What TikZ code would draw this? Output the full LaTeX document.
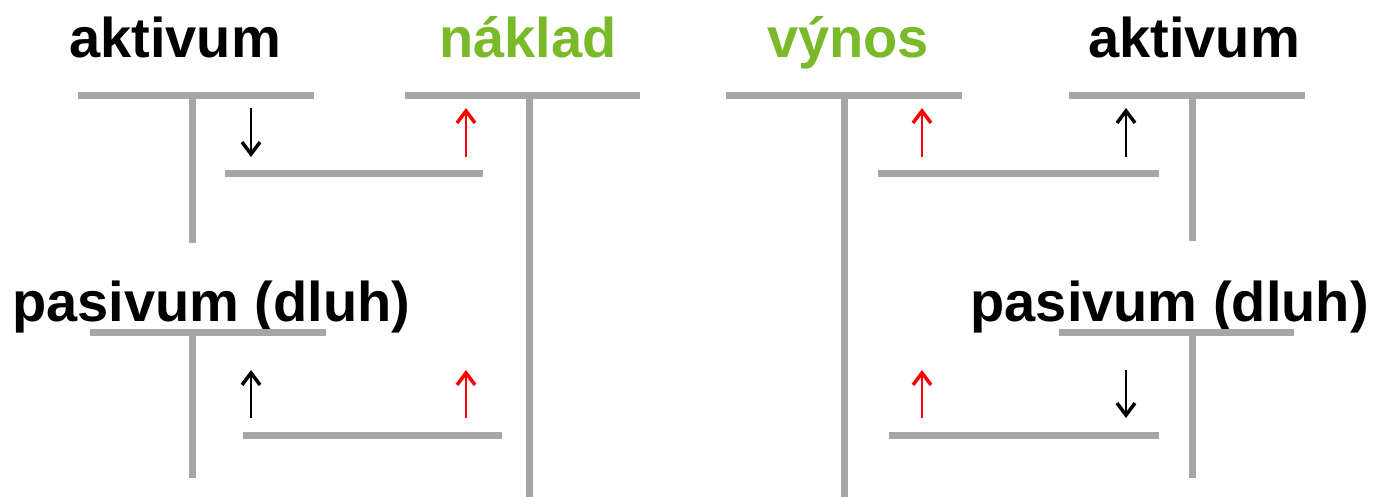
\documentclass[tikz,border=0pt]{standalone}
\usepackage{fontspec}
\setmainfont{Liberation Sans}
\usetikzlibrary{arrows.meta}
\definecolor{bargray}{RGB}{166,166,166}
\definecolor{accgreen}{RGB}{122,185,41}
\definecolor{arrred}{RGB}{255,0,0}
\tikzset{
  bar/.style={draw=bargray, line width=7pt, line cap=butt},
  lbl/.style={inner sep=0pt, font=\fontsize{56pt}{60pt}\selectfont\bfseries},
  acct/.style={lbl, text=black},
  flow/.style={lbl, text=accgreen},
  arr/.style={line width=2.5pt, -{Straight Barb[length=12pt,width=18pt,line width=3.5pt]}},
  arrblack/.style={arr, draw=black},
  arrredst/.style={arr, draw=arrred}
}
\begin{document}
\begin{tikzpicture}[x=1pt,y=-1pt]
\useasboundingbox (0,0) rectangle (1377,497);
% ---------- labels ----------
\node[acct, anchor=base] (akt1) at (175,58) {aktivum};
\node[flow, anchor=base] (nak) at (528,58) {náklad};
\node[acct, anchor=base west] (pas1) at (12,322) {pasivum (dluh)};
\node[flow, anchor=base] (vyn) at (848,58) {výnos};
\node[acct, anchor=base] (akt2) at (1194,58) {aktivum};
\node[acct, anchor=base east] (pas2) at (1369,322) {pasivum (dluh)};
% ---------- left: T accounts ----------
\coordinate (t1l) at (78,96);   \coordinate (t1r) at (314,96);
\coordinate (t1t) at (192,96);  \coordinate (t1b) at (192,243);
\coordinate (t2l) at (405,96);  \coordinate (t2r) at (640,96);
\coordinate (t2t) at (529,96);  \coordinate (t2b) at (529,497);
\coordinate (t3l) at (90,332);  \coordinate (t3r) at (326,332);
\coordinate (t3t) at (192,332); \coordinate (t3b) at (192,478);
\coordinate (m1l) at (225,174); \coordinate (m1r) at (483,174);
\coordinate (m2l) at (243,435); \coordinate (m2r) at (502,435);
\draw[bar] (t1l) -- (t1r);
\draw[bar] (t1t) -- (t1b);
\draw[bar] (t2l) -- (t2r);
\draw[bar] (t2t) -- (t2b);
\draw[bar] (t3l) -- (t3r);
\draw[bar] (t3t) -- (t3b);
\draw[bar] (m1l) -- (m1r);
\draw[bar] (m2l) -- (m2r);
% left arrows
\coordinate (a1t) at (251,108); \coordinate (a1b) at (251,157);
\coordinate (a2t) at (466,108); \coordinate (a2b) at (466,157);
\coordinate (a3t) at (251,370); \coordinate (a3b) at (251,418);
\coordinate (a4t) at (466,370); \coordinate (a4b) at (466,418);
\draw[arrblack] (a1t) -- (a1b);
\draw[arrredst] (a2b) -- (a2t);
\draw[arrblack] (a3b) -- (a3t);
\draw[arrredst] (a4b) -- (a4t);
% ---------- right: T accounts ----------
\coordinate (t4l) at (726,96);   \coordinate (t4r) at (962,96);
\coordinate (t4t) at (844,96);   \coordinate (t4b) at (844,497);
\coordinate (t5l) at (1069,96);  \coordinate (t5r) at (1305,96);
\coordinate (t5t) at (1192,96);  \coordinate (t5b) at (1192,241);
\coordinate (t6l) at (1059,332); \coordinate (t6r) at (1294,332);
\coordinate (t6t) at (1192,332); \coordinate (t6b) at (1192,478);
\coordinate (m3l) at (878,174);  \coordinate (m3r) at (1159,174);
\coordinate (m4l) at (889,435);  \coordinate (m4r) at (1159,435);
\draw[bar] (t4l) -- (t4r);
\draw[bar] (t4t) -- (t4b);
\draw[bar] (t5l) -- (t5r);
\draw[bar] (t5t) -- (t5b);
\draw[bar] (t6l) -- (t6r);
\draw[bar] (t6t) -- (t6b);
\draw[bar] (m3l) -- (m3r);
\draw[bar] (m4l) -- (m4r);
% right arrows
\coordinate (b1t) at (922,108);  \coordinate (b1b) at (922,157);
\coordinate (b2t) at (1126,108); \coordinate (b2b) at (1126,157);
\coordinate (b3t) at (922,370);  \coordinate (b3b) at (922,418);
\coordinate (b4t) at (1126,370); \coordinate (b4b) at (1126,418);
\draw[arrredst] (b1b) -- (b1t);
\draw[arrblack] (b2b) -- (b2t);
\draw[arrredst] (b3b) -- (b3t);
\draw[arrblack] (b4t) -- (b4b);
\end{tikzpicture}
\end{document}
